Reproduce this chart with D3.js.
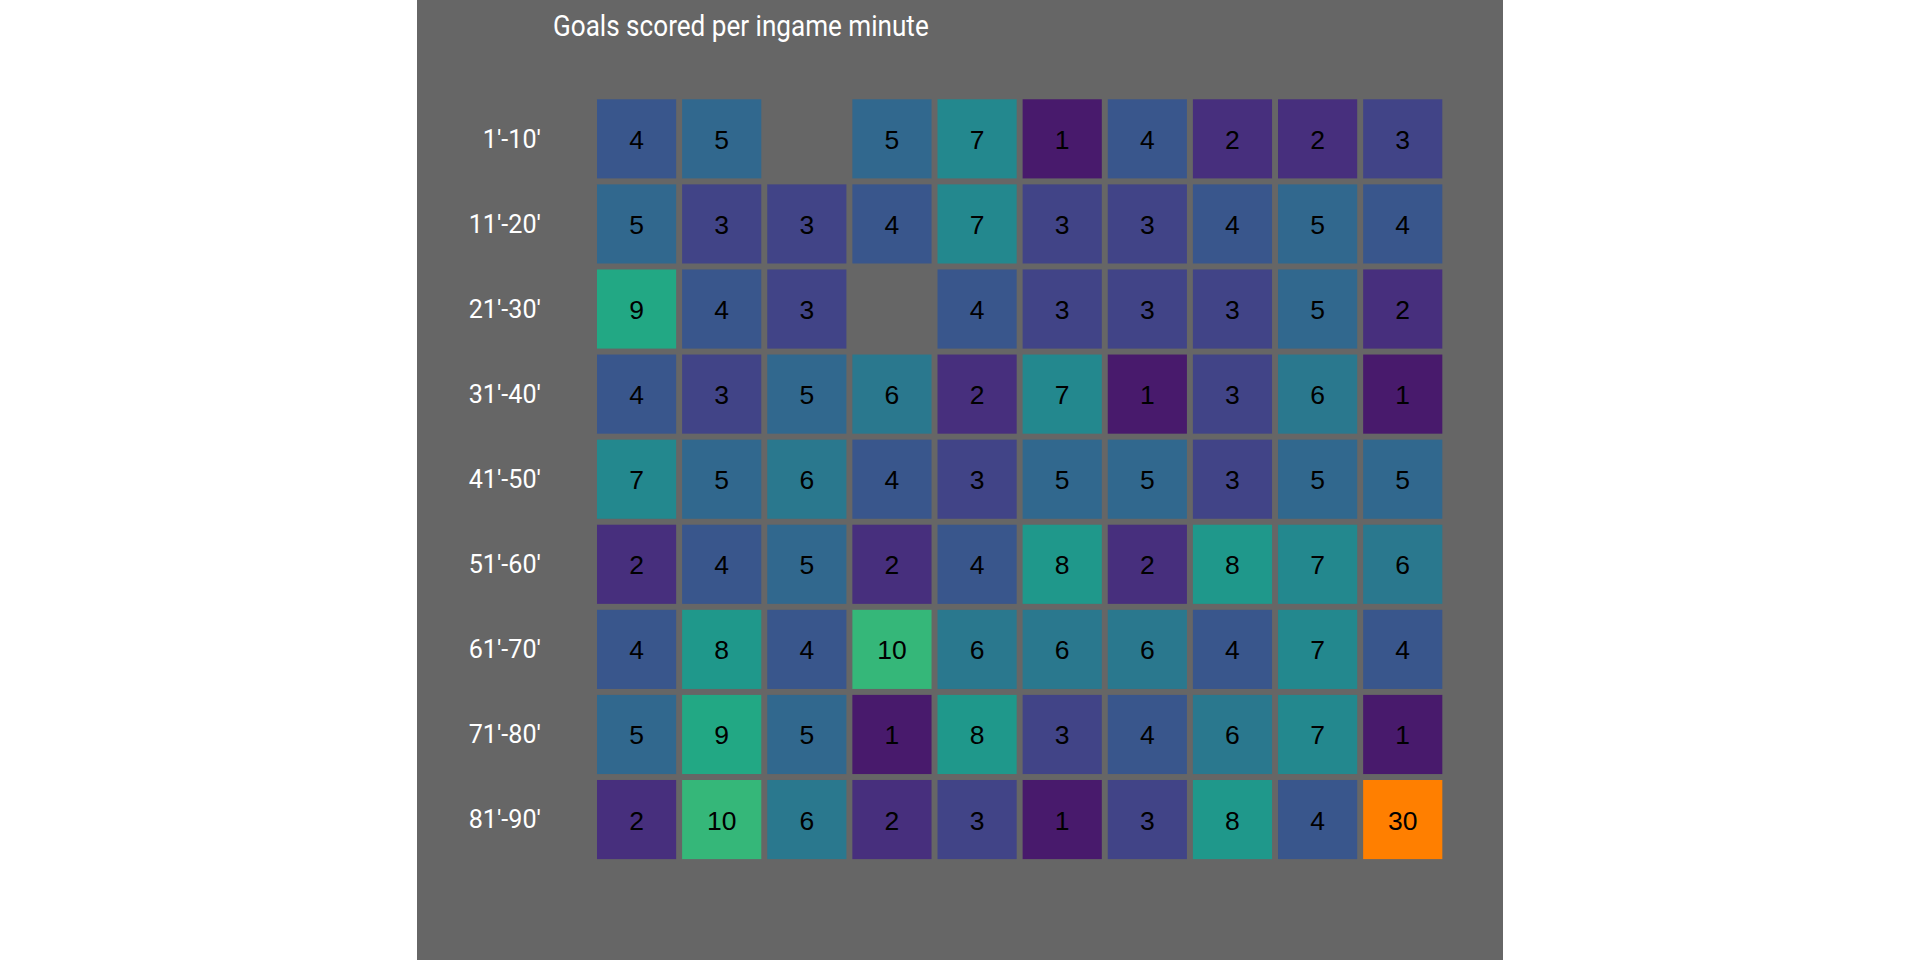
<!DOCTYPE html>
<html>
<head>
<meta charset="utf-8">
<script src="https://cdn.jsdelivr.net/npm/d3@7"></script>
<style>
html,body{margin:0;padding:0;background:#ffffff;}
svg{display:block;}
</style>
</head>
<body>
<svg id="chart" width="1920" height="960"></svg>
<script>
const title = "Goals scored per ingame minute";
const rowLabels = ["1'-10'","11'-20'","21'-30'","31'-40'","41'-50'","51'-60'","61'-70'","71'-80'","81'-90'"];
const columns = ["1","2","3","4","5","6","7","8","9","10"];
const r1  = [4,5,null,5,7,1,4,2,2,3];
const r2  = [5,3,3,4,7,3,3,4,5,4];
const r3  = [9,4,3,null,4,3,3,3,5,2];
const r4  = [4,3,5,6,2,7,1,3,6,1];
const r5  = [7,5,6,4,3,5,5,3,5,5];
const r6  = [2,4,5,2,4,8,2,8,7,6];
const r7  = [4,8,4,10,6,6,6,4,7,4];
const r8  = [5,9,5,1,8,3,4,6,7,1];
const r9  = [2,10,6,2,3,1,3,8,4,30];
const rows = [r1,r2,r3,r4,r5,r6,r7,r8,r9];
const colorLimits = [0,15];

const cells = [];
rows.forEach((r,i)=>r.forEach((v,j)=>{ if(v!=null) cells.push({row:rowLabels[i], col:columns[j], value:v}); }));

const svg = d3.select("#chart");
svg.append("rect").attr("x",417).attr("y",0).attr("width",1086).attr("height",960).attr("fill","#666666");

const pad = 0.07;
const x = d3.scaleBand().domain(columns).range([594.0, 1445.3]).paddingInner(pad).paddingOuter(pad/2);
const y = d3.scaleBand().domain(rowLabels).range([96.3, 862.1]).paddingInner(pad).paddingOuter(pad/2);
const color = d3.scaleSequential(d3.interpolateViridis).domain(colorLimits);
const fill = v => v > colorLimits[1] ? "#ff7f00" : color(v);

svg.append("g").selectAll("rect").data(cells).join("rect")
  .attr("x", d=>x(d.col)).attr("y", d=>y(d.row))
  .attr("width", x.bandwidth()).attr("height", y.bandwidth())
  .attr("fill", d=>fill(d.value));

svg.append("g").selectAll("text").data(cells).join("text")
  .attr("x", d=>x(d.col)+x.bandwidth()/2)
  .attr("y", d=>y(d.row)+y.bandwidth()/2 + 10)
  .attr("text-anchor","middle")
  .attr("font-family","'Liberation Sans', Arial, sans-serif")
  .attr("font-size",26.5)
  .attr("fill","#000000")
  .text(d=>d.value);

svg.append("g").selectAll("text").data(rowLabels).join("text")
  .attr("transform", d=>`translate(541,${y(d)+y.bandwidth()/2+8.8}) scale(0.95,1)`)
  .attr("text-anchor","end")
  .attr("font-family","Roboto, sans-serif")
  .attr("font-size",26.5)
  .attr("fill","#ffffff")
  .text(d=>d);

svg.append("text")
  .attr("transform","translate(553,35.7) scale(0.9,1)")
  .attr("font-family","Roboto, sans-serif")
  .attr("font-size",29)
  .attr("fill","#ffffff")
  .text(title);
</script>
</body>
</html>
